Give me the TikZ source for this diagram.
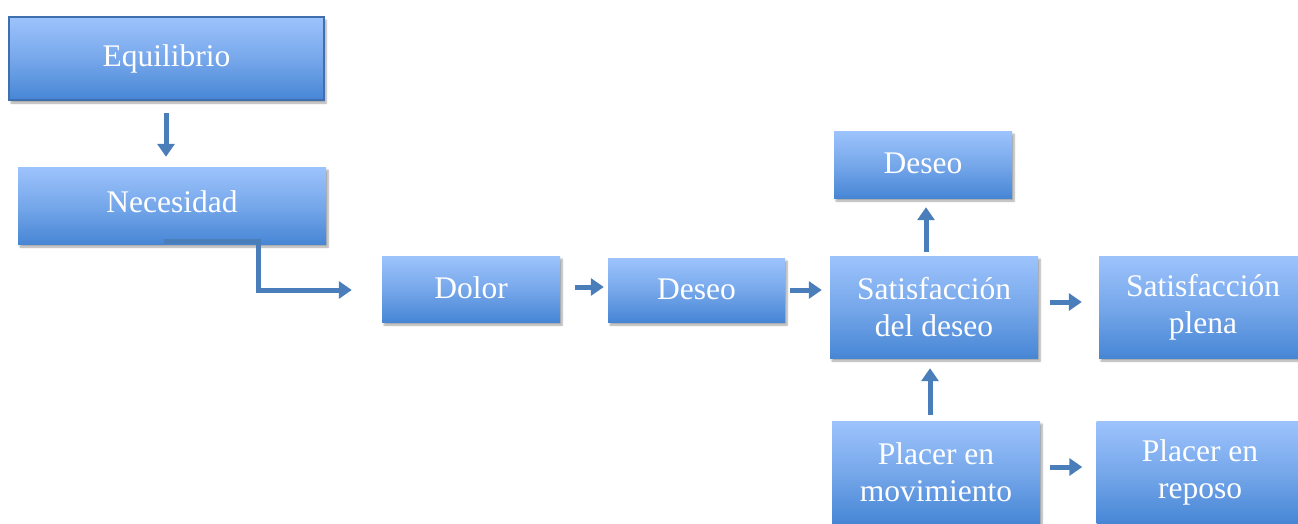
\documentclass[tikz,border=0pt]{standalone}
\usepackage{fontspec}
\setmainfont{Liberation Serif}
\usetikzlibrary{arrows.meta,shadows.blur,calc}
\definecolor{boxtop}{HTML}{9DC3FC}
\definecolor{boxbot}{HTML}{4786D5}
\definecolor{arrcol}{HTML}{4A7EBB}
\definecolor{edgecol}{HTML}{3F6FAE}
\tikzset{
  box/.style={rectangle, inner sep=0pt, top color=boxtop, bottom color=boxbot,
    middle color=boxtop!55!boxbot,
    text=white, align=center, font=\fontsize{31.5}{37}\selectfont,
    blur shadow={shadow xshift=2pt, shadow yshift=-3pt, shadow blur steps=6, shadow opacity=35}},
  arr/.style={draw=arrcol, line width=5pt, -{Triangle[width=17pt,length=13pt]}}
}
\begin{document}
\begin{tikzpicture}[x=1pt,y=-1pt]
\useasboundingbox (0,0) rectangle (1298,523);
\clip (0,0) rectangle (1298,523);
\node[box, draw=edgecol, line width=1.5pt, minimum width=315, minimum height=83] (equi) at (166.5,58.5) {Equilibrio};
\node[box, minimum width=308, minimum height=77] (nec) at (172,205.5) {\raisebox{7pt}{Necesidad}};
\node[box, minimum width=178, minimum height=66] (dolor) at (471,289) {\raisebox{2pt}{Dolor}};
\node[box, minimum width=177, minimum height=64] (deseo) at (696.5,290) {\raisebox{2pt}{Deseo}};
\node[box, minimum width=208, minimum height=102] (satis) at (934,307) {Satisfacción\\del deseo};
\node[box, minimum width=178, minimum height=67] (deseotop) at (923,164.5) {\raisebox{2pt}{Deseo}};
\node[box, minimum width=208, minimum height=102] (plena) at (1203,307) {Satisfacción\\plena};
\node[box, minimum width=208, minimum height=102] (mov) at (936,472) {Placer en\\movimiento};
\node[box, minimum width=207, minimum height=102] (reposo) at (1200,472) {Placer en\\reposo};

\draw[arr, shorten <=12pt, shorten >=10pt] (equi.south -| 166,0) -- (nec.north -| 166,0);
\coordinate (c1) at ($(nec.south)+(-8,-3)$);
\coordinate (c2) at ($(dolor.west)+(-30,1)$);
\draw[arr] (c1) -- ($(c1)+(94,0)$) |- (c2);
\draw[arr, shorten <=15pt, shorten >=4pt] ($(dolor.east)+(0,-2)$) -- ($(deseo.west)+(0,-3)$);
\draw[arr, shorten <=5pt, shorten >=8pt] (deseo.east) -- (deseo.east -| satis.west);
\draw[arr, shorten <=4pt, shorten >=9pt] (satis.north -| 926,0) -- (deseotop.south -| 926,0);
\draw[arr, shorten <=12pt, shorten >=17pt] ($(satis.east)+(0,-5)$) -- ($(plena.west)+(0,-5)$);
\draw[arr, shorten <=6pt, shorten >=10pt] (mov.north -| 930,0) -- (satis.south -| 930,0);
\draw[arr, shorten <=10pt, shorten >=14pt] ($(mov.east)+(0,-5)$) -- ($(reposo.west)+(0,-5)$);
\end{tikzpicture}
\end{document}
